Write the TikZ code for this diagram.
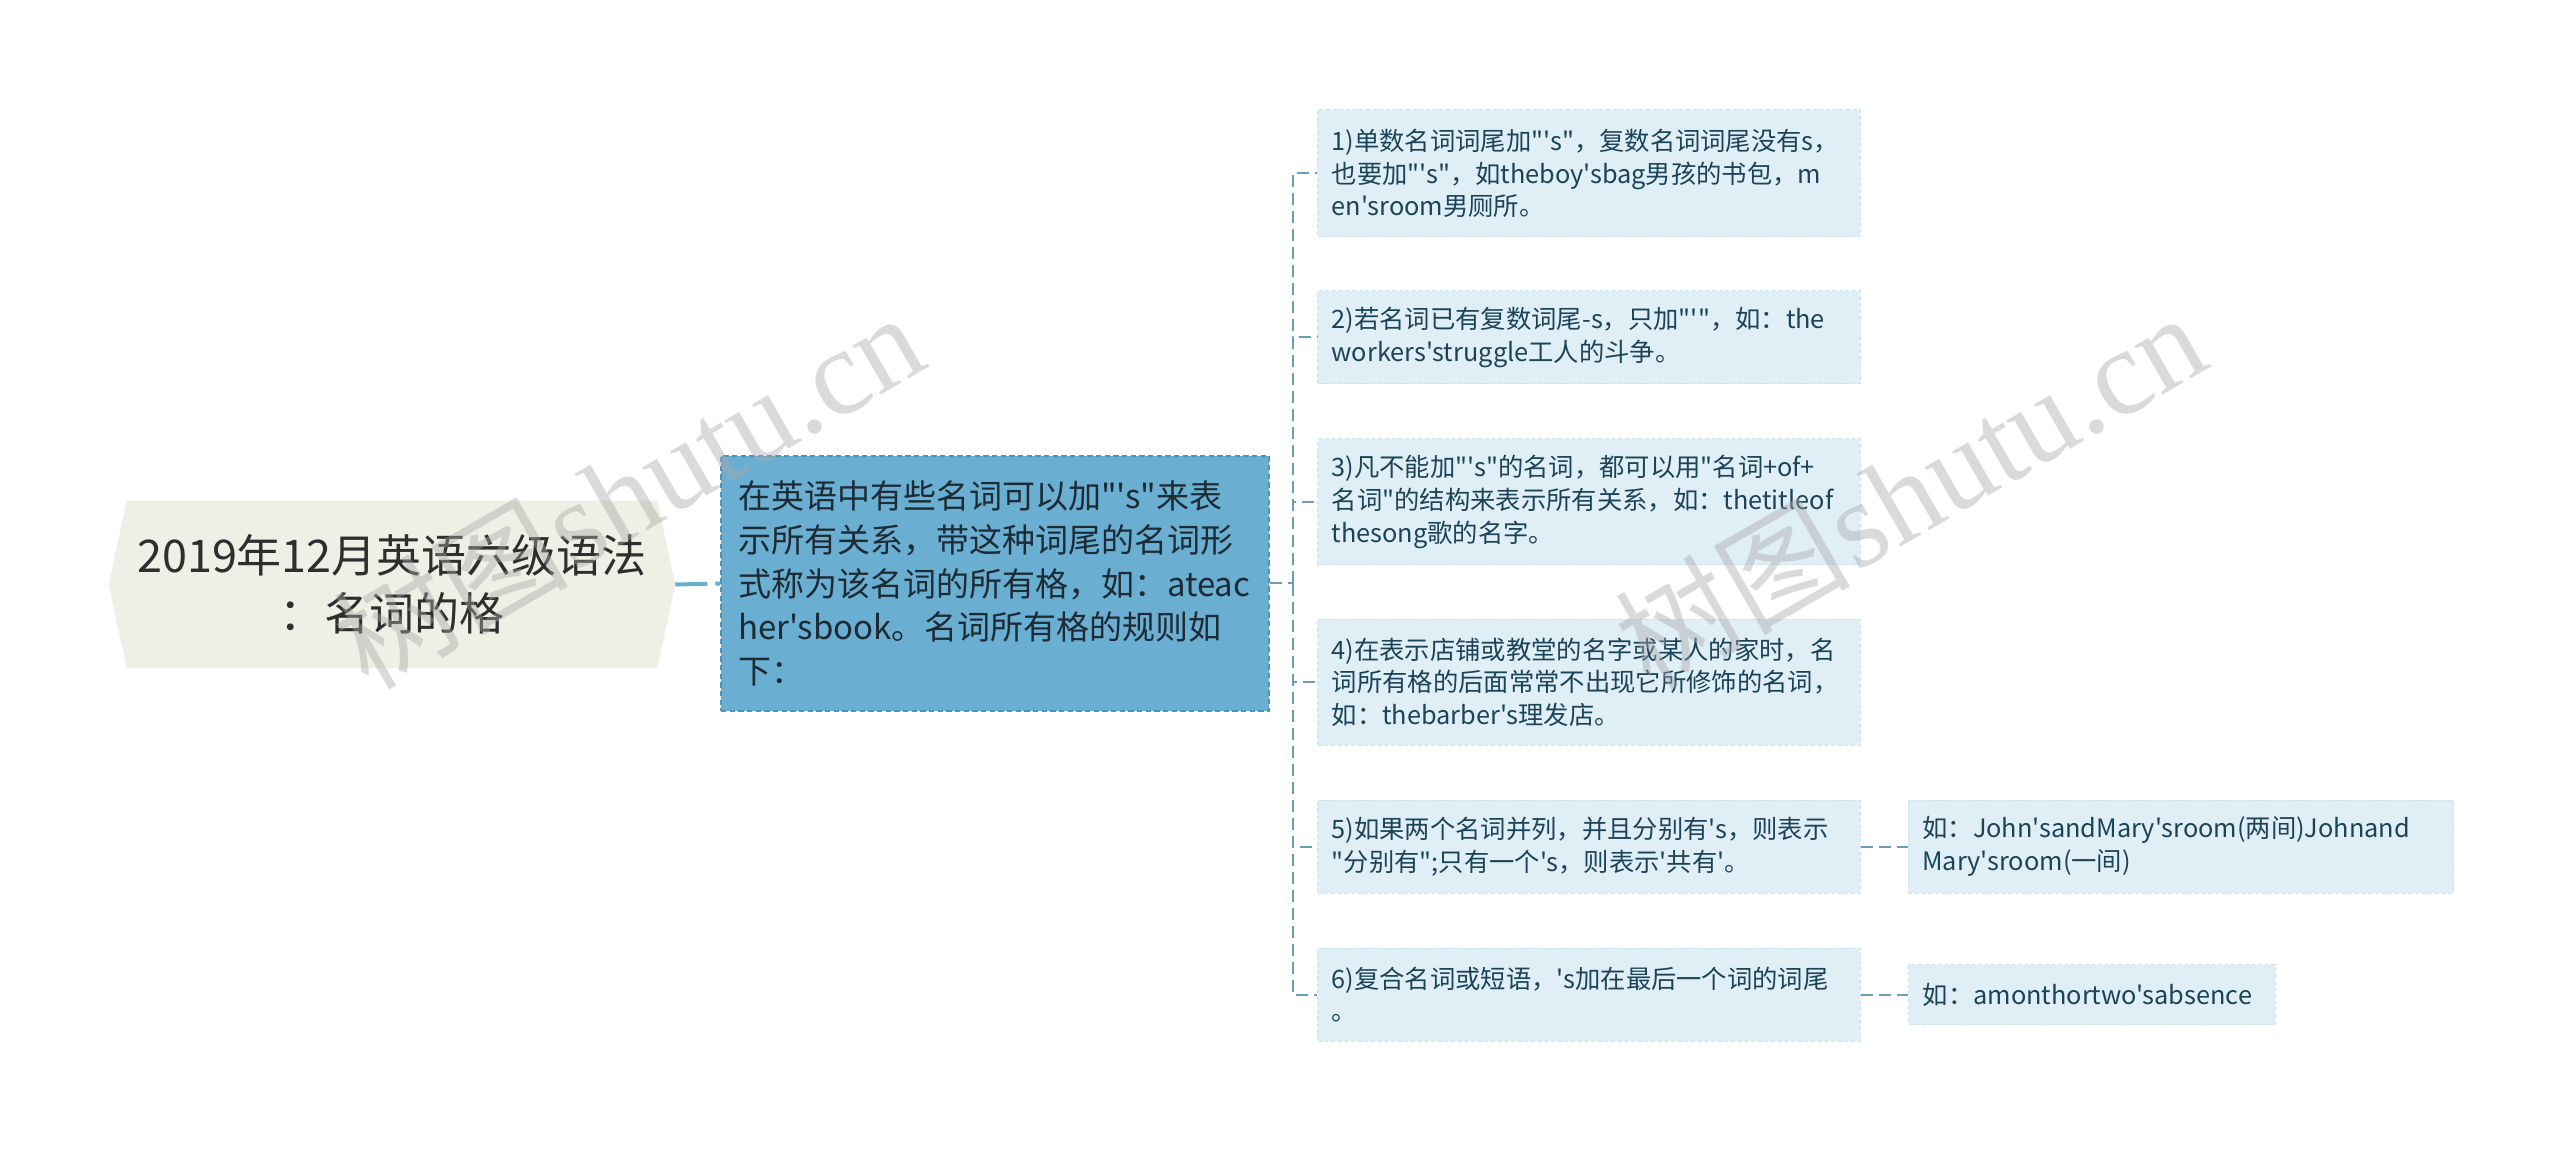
\documentclass[tikz,border=0pt]{standalone}
\usepackage{fontspec}
\setmainfont{Noto Sans CJK SC}[Ligatures=TeXOff]
\newfontfamily\wmlatin{Liberation Serif}
\newfontfamily\wmcjk{Noto Sans CJK SC}
\definecolor{rootfill}{HTML}{EFEFE6}
\definecolor{roottext}{HTML}{2E2E2E}
\definecolor{mainfill}{HTML}{6AAED1}
\definecolor{mainedge}{HTML}{4E93B8}
\definecolor{maintext}{HTML}{1D2B35}
\definecolor{childfill}{HTML}{E0EEF6}
\definecolor{childedge}{HTML}{CCE2EE}
\definecolor{childtext}{HTML}{1B4459}
\definecolor{linkc}{HTML}{6C9DB6}
\definecolor{wmgray}{HTML}{A8A8A8}
\begin{document}
\begin{tikzpicture}[x=0.75pt,y=-0.75pt,
  childbox/.style={rectangle, fill=childfill, draw=childedge, dash pattern=on 3pt off 2pt,
    line width=0.75pt, inner sep=0pt, text width=386pt, minimum width=407pt,
    align=left, text=childtext, font=\fontsize{19}{24.4}\selectfont},
  mainbox/.style={rectangle, fill=mainfill, draw=mainedge, dash pattern=on 4pt off 2.5pt,
    line width=1pt, inner xsep=12.75pt, inner ysep=0pt, text width=385.5pt,
    minimum width=411pt, minimum height=191.25pt, align=left, text=maintext,
    font=\fontsize{24.75}{32.7}\selectfont},
  rootbox/.style={rectangle, inner sep=0pt, minimum width=424.5pt, minimum height=125.25pt,
    align=center, text=roottext, font=\fontsize{33.75}{43.5}\selectfont},
  link/.style={draw=linkc, line width=1.5pt, dash pattern=on 9pt off 4.5pt},
  rootlink/.style={draw=mainfill, line width=3pt, dash pattern=on 24pt off 6pt},
  wmark/.style={rotate=30, text=wmgray, opacity=0.42, inner sep=0pt}]
\useasboundingbox (0,0) rectangle (2560,1151);
\fill[white] (0,0) rectangle (2560,1151);

% root
\node[rootbox] (root) at (392,584.5) {};
\fill[rootfill] (root.west) -- ([xshift=13.5pt]root.north west) -- ([xshift=-13.5pt]root.north east)
  -- (root.east) -- ([xshift=-13.5pt]root.south east) -- ([xshift=13.5pt]root.south west) -- cycle;
\node[rootbox] (roottxt) at (392,584.5) {2019年12月英语六级语法\\：名词的格};

% main
\node[mainbox] (main) at (995,583.5) {在英语中有些名词可以加"'s"来表\\示所有关系，带这种词尾的名词形\\式称为该名词的所有格，如：ateac\\her'sbook。名词所有格的规则如\\下：};

% children
\node[childbox, minimum height=95.25pt] (c1) at (1589,173.5) {1)单数名词词尾加"'s"，复数名词词尾没有s，\\也要加"'s"，如theboy'sbag男孩的书包，m\\en'sroom男厕所。};
\node[childbox, minimum height=69.75pt] (c2) at (1589,337.5) {2)若名词已有复数词尾-s，只加"'"，如：the\\workers'struggle工人的斗争。};
\node[childbox, minimum height=94.5pt] (c3) at (1589,502) {3)凡不能加"'s"的名词，都可以用"名词+of+\\名词"的结构来表示所有关系，如：thetitleof\\thesong歌的名字。};
\node[childbox, minimum height=94.5pt] (c4) at (1589,682) {4)在表示店铺或教堂的名字或某人的家时，名\\词所有格的后面常常不出现它所修饰的名词，\\如：thebarber's理发店。};
\node[childbox, minimum height=69.75pt] (c5) at (1589,846.5) {5)如果两个名词并列，并且分别有's，则表示\\"分别有";只有一个's，则表示'共有'。};
\node[childbox, minimum height=69.75pt] (c6) at (1589,994.5) {6)复合名词或短语，'s加在最后一个词的词尾\\。};

% grandchildren
\node[childbox, minimum height=69.75pt, text width=388pt, minimum width=409pt] (g5) at (2181,846.5) {如：John'sandMary'sroom(两间)Johnand\\Mary'sroom(一间)};
\node[childbox, minimum height=45pt, text width=254pt, minimum width=275pt] (g6) at (2092,994.5) {如：amonthortwo'sabsence};

% connectors
\coordinate (sp) at (1293,583.5);
\draw[rootlink] (root.east) -- (main.west);
\draw[link] (main.east) -- (sp);
\foreach \c in {c1,c2,c3,c4,c5,c6} {\draw[link] (sp) |- (\c.west);}
\draw[link] (c5.east) -- (g5.west);
\draw[link] (c6.east) -- (g6.west);

% watermarks
\node[wmark] (wm1) at (628,490) {{\wmcjk\fontsize{88}{88}\selectfont 树图} {\wmlatin\fontsize{92}{92}\selectfont shutu.cn}};
\node[wmark] (wm2) at (1910,490) {{\wmcjk\fontsize{88}{88}\selectfont 树图} {\wmlatin\fontsize{92}{92}\selectfont shutu.cn}};
\end{tikzpicture}
\end{document}
